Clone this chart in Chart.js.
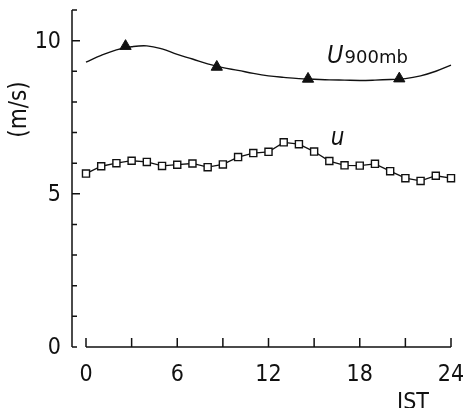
<!DOCTYPE html>
<html>
<head>
<meta charset="utf-8">
<script src="https://cdn.jsdelivr.net/npm/chart.js@4/dist/chart.umd.min.js"></script>
<style>
  html, body { margin: 0; padding: 0; background: #fff; }
  canvas { display: block; }
</style>
</head>
<body>
<canvas id="wind-chart" width="463" height="408"></canvas>
<script>
// hours (JST)
const hours = [0, 1, 2, 3, 4, 5, 6, 7, 8, 9, 10, 11, 12, 13, 14, 15, 16, 17, 18, 19, 20, 21, 22, 23, 24];

// surface wind speed u (m/s), hourly
const uValues = [5.66, 5.90, 6.00, 6.08, 6.04, 5.91, 5.95, 5.99, 5.87, 5.96, 6.20, 6.33, 6.37,
                 6.68, 6.62, 6.38, 6.07, 5.93, 5.92, 5.98, 5.74, 5.51, 5.42, 5.59, 5.51];

// smooth 900 mb curve read hourly
const u900Curve = [9.30, 9.52, 9.70, 9.80, 9.83, 9.73, 9.55, 9.40, 9.24, 9.12, 9.03, 8.93, 8.85,
                   8.80, 8.76, 8.74, 8.72, 8.71, 8.70, 8.71, 8.73, 8.76, 8.85, 9.00, 9.20];

// 900 mb observation times and values
const u900Hours = [2.6, 8.6, 14.6, 20.6];
const u900Obs = [9.82, 9.14, 8.75, 8.76];

// axis ticks and labels
const xTicks = [0, 3, 6, 9, 12, 15, 18, 21, 24];
const xLabels = [0, 6, 12, 18, 24];
const yTicks = [0, 1, 2, 3, 4, 5, 6, 7, 8, 9, 10, 11];
const yLabels = [0, 5, 10];

const ink = '#111';
const font = '"DejaVu Sans Condensed", "DejaVu Sans", sans-serif';

function toPoints(xs, ys) {
  return xs.map((x, i) => ({ x: x, y: ys[i] }));
}

// axes are drawn detached from each other, ticks pointing inwards
const axesPlugin = {
  id: 'detachedAxes',
  afterDraw(chart) {
    const ctx = chart.ctx;
    const xs = chart.scales.x;
    const ys = chart.scales.y;
    const area = chart.chartArea;
    const axisX = area.left - 14;
    const axisY = ys.getPixelForValue(0);

    ctx.save();
    ctx.strokeStyle = ink;
    ctx.fillStyle = ink;
    ctx.lineWidth = 1.5;

    // y axis
    ctx.beginPath();
    ctx.moveTo(axisX, ys.getPixelForValue(0));
    ctx.lineTo(axisX, ys.getPixelForValue(11));
    yTicks.forEach(v => {
      const py = ys.getPixelForValue(v);
      const len = (v > 0 && v % 5 === 0) ? 8 : 5;
      ctx.moveTo(axisX, py);
      ctx.lineTo(axisX + len, py);
    });
    ctx.stroke();

    // x axis
    ctx.beginPath();
    ctx.moveTo(xs.getPixelForValue(0), axisY);
    ctx.lineTo(xs.getPixelForValue(24), axisY);
    xTicks.forEach(v => {
      const px = xs.getPixelForValue(v);
      ctx.moveTo(px, axisY);
      ctx.lineTo(px, axisY - 9);
    });
    ctx.stroke();

    // tick labels
    ctx.font = '23px ' + font;
    ctx.textBaseline = 'middle';
    ctx.textAlign = 'right';
    yLabels.forEach(v => {
      ctx.fillText(String(v), axisX - 11, ys.getPixelForValue(v) + 1);
    });
    ctx.textAlign = 'center';
    xLabels.forEach(v => {
      ctx.fillText(String(v), xs.getPixelForValue(v), axisY + 28);
    });

    // axis titles
    ctx.textBaseline = 'alphabetic';
    ctx.fillText('JST', xs.getPixelForValue(21.5), axisY + 62);

    ctx.save();
    ctx.translate(20, ys.getPixelForValue(7.75));
    ctx.rotate(-Math.PI / 2);
    ctx.font = '24px ' + font;
    ctx.textBaseline = 'middle';
    ctx.fillText('(m/s)', 0, 0);
    ctx.restore();

    // series labels
    ctx.textAlign = 'left';
    let lx = xs.getPixelForValue(15.85);
    const ly = ys.getPixelForValue(9.28);
    ctx.font = 'italic 25px ' + font;
    ctx.fillText('U', lx, ly);
    lx += ctx.measureText('U').width + 1;
    ctx.font = '18px "DejaVu Sans", sans-serif';
    ctx.fillText('900mb', lx, ly);

    ctx.font = 'italic 24px ' + font;
    ctx.fillText('u', xs.getPixelForValue(16.1), ys.getPixelForValue(6.6));
    ctx.restore();
  }
};

const ctx = document.getElementById('wind-chart').getContext('2d');
const chart = new Chart(ctx, {
  type: 'line',
  data: {
    datasets: [
      {
        label: 'U900 curve',
        data: toPoints(hours, u900Curve),
        borderColor: ink,
        borderWidth: 1.4,
        tension: 0.4,
        pointRadius: 0,
        fill: false,
        clip: false
      },
      {
        label: 'U900mb',
        data: toPoints(u900Hours, u900Obs),
        showLine: false,
        pointStyle: 'triangle',
        pointRadius: 6.5,
        pointBackgroundColor: ink,
        pointBorderColor: ink,
        pointBorderWidth: 1,
        clip: false
      },
      {
        label: 'u',
        data: toPoints(hours, uValues),
        borderColor: ink,
        borderWidth: 1.3,
        tension: 0,
        pointStyle: 'rect',
        pointRadius: 5,
        pointBackgroundColor: '#fff',
        pointBorderColor: ink,
        pointBorderWidth: 1.4,
        clip: false
      }
    ]
  },
  options: {
    responsive: false,
    animation: false,
    layout: { padding: { left: 86, right: 12, top: 10, bottom: 61 } },
    plugins: {
      legend: { display: false },
      tooltip: { enabled: false }
    },
    scales: {
      x: { type: 'linear', min: 0, max: 24, display: false },
      y: { min: 0, max: 11, display: false }
    }
  },
  plugins: [axesPlugin]
});
</script>
</body>
</html>
